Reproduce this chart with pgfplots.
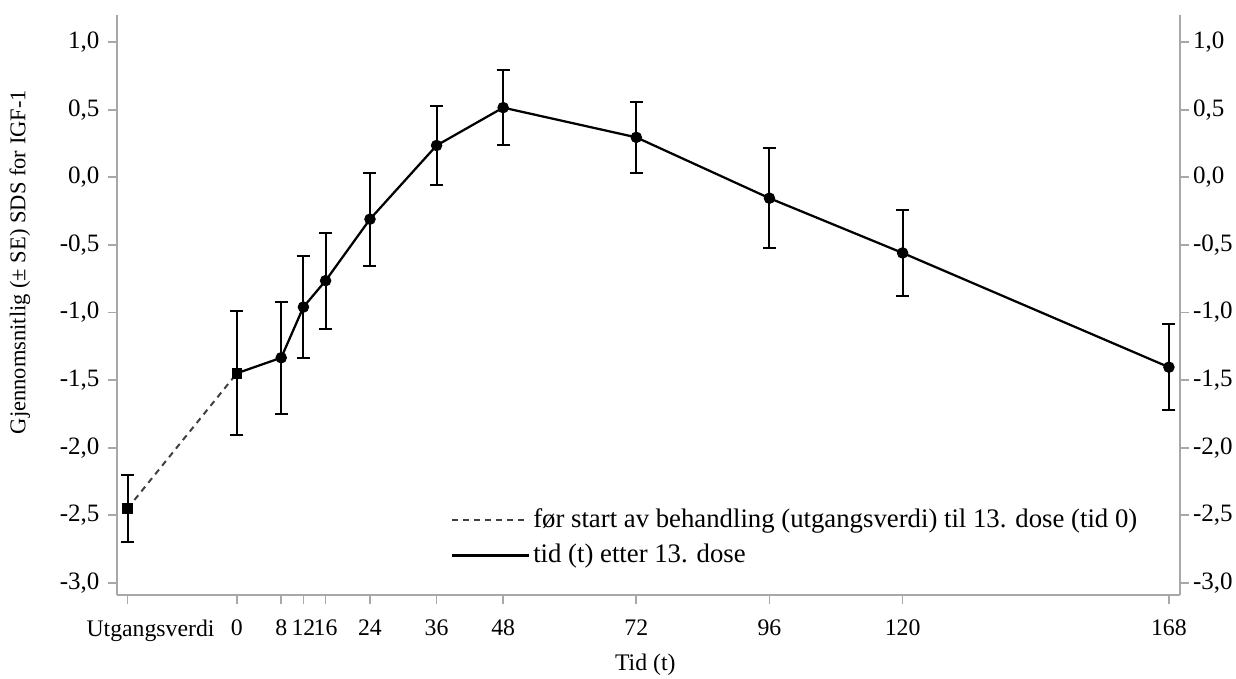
\documentclass[border=0pt]{standalone}
\usepackage{fontspec}
\setmainfont{Liberation Serif}
\usepackage{pgfplots}
\pgfplotsset{compat=1.18}
\definecolor{axgray}{HTML}{A8A8A8}

\begin{document}
\begin{tikzpicture}
\path[use as bounding box] (-46.8pt,-33.2pt) rectangle (447.6pt,238pt);
\pgfplotsset{
  common/.style={
    at={(0,0)}, anchor=south west,
    width=425.2pt, height=232pt, scale only axis,
    xmin=-21.6, xmax=170, ymin=-3.09, ymax=1.20,
    axis line style={axgray, line width=0.7pt},
    every tick/.style={axgray, line width=0.7pt},
    tick align=outside, major tick length=3.5pt,
    ytick={-3,-2.5,-2,-1.5,-1,-0.5,0,0.5,1},
    yticklabel style={/pgf/number format/use comma, /pgf/number format/fixed, /pgf/number format/fixed zerofill, /pgf/number format/precision=1, /pgf/number format/assume math mode=true},
    yticklabel style={font=\fontsize{10}{12}\selectfont, text=black},
  }
}
\begin{axis}[
  common,
  axis x line*=bottom, axis y line*=left,
  xtick={-19.7,0,8,12,16,24,36,48,72,96,120,168},
  xticklabels={\hspace*{18.4pt}Utgangsverdi,0,8,12,16,24,36,48,72,96,120,168},
  xticklabel style={font=\fontsize{9.5}{11}\selectfont, text=black, yshift=-3pt},
  xlabel={Tid (t)},
  xlabel style={at={(axis description cs:0.497,0)}, anchor=center, yshift=-28pt, font=\fontsize{9.5}{11}\selectfont},
  ylabel={Gjennomsnitlig (± SE) SDS for IGF-1},
  ylabel style={at={(axis description cs:0,0.574)}, anchor=center, yshift=38.8pt, font=\fontsize{9}{11}\selectfont},
  legend style={at={(axis description cs:0.3133,0.161)}, anchor=north west, draw=none, fill=none,
    font=\fontsize{10.7}{13}\selectfont, inner sep=0pt, nodes={inner xsep=1pt, inner ysep=2.6pt}},
  legend cell align=left,
  legend image code/.code={\draw[#1] (0pt,0pt) -- (30.8pt,0pt);},
]
\addplot[black!75, line width=0.8pt, dash pattern=on 2.4pt off 2pt] coordinates {(-19.7,-2.45) (0,-1.45)};
\addlegendentry{før start av behandling (utgangsverdi) til 13. dose (tid 0)}
\addplot[black, line width=0.9pt, legend image code/.code={\draw[black, line width=1.3pt] (0pt,0pt) -- (30.8pt,0pt);}] coordinates {(0,-1.45) (8,-1.335) (12,-0.96) (16,-0.765) (24,-0.31) (36,0.235) (48,0.515) (72,0.295) (96,-0.155) (120,-0.56) (168,-1.405)};
\addlegendentry{tid (t) etter 13. dose}
\addplot[forget plot, black, only marks, mark=*, mark size=2.1pt,
  error bars/.cd, y dir=both, y explicit,
  error bar style={black, line width=0.8pt},
  error mark options={rotate=90, mark size=2.6pt, line width=0.8pt, black}]
  coordinates {
  (8,-1.335) +- (0,0.415)
  (12,-0.96) +- (0,0.38)
  (16,-0.765) +- (0,0.355)
  (24,-0.31) +- (0,0.345)
  (36,0.235) +- (0,0.29)
  (48,0.515) +- (0,0.275)
  (72,0.295) +- (0,0.265)
  (96,-0.155) +- (0,0.37)
  (120,-0.56) +- (0,0.32)
  (168,-1.405) +- (0,0.32)
  };
\addplot[forget plot, black, only marks, mark=square*, mark size=1.9pt,
  error bars/.cd, y dir=both, y explicit,
  error bar style={black, line width=0.8pt},
  error mark options={rotate=90, mark size=2.6pt, line width=0.8pt, black}]
  coordinates {
  (-19.7,-2.45) +- (0,0.25)
  (0,-1.45) +- (0,0.46)
  };
\end{axis}
\begin{axis}[
  common,
  axis x line=none, axis y line*=right,
  yticklabel pos=right,
  yticklabel style={xshift=-1.8pt},
]
\addplot[draw=none] coordinates {(0,0)};
\end{axis}
\end{tikzpicture}
\end{document}
